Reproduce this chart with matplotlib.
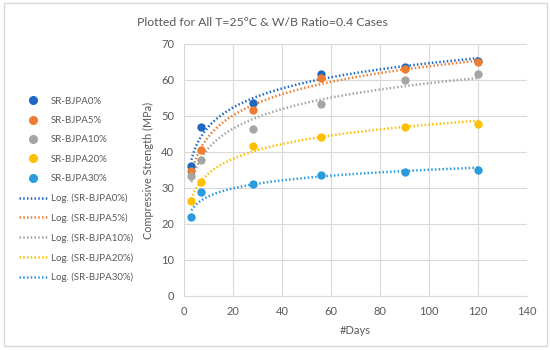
import numpy as np
import matplotlib
matplotlib.use("Agg")
import matplotlib.pyplot as plt
from matplotlib.patches import Rectangle
from matplotlib.lines import Line2D

plt.rcParams['font.family'] = ['Lato', 'DejaVu Sans']

days = [3, 7, 28, 56, 90, 120]
series_names = ["SR-BJPA0%", "SR-BJPA5%", "SR-BJPA10%", "SR-BJPA20%", "SR-BJPA30%"]
bjpa0 = [36.0, 47.0, 53.5, 61.8, 63.7, 65.2]
bjpa5 = [34.8, 40.5, 51.7, 60.5, 63.0, 65.0]
bjpa10 = [33.2, 37.7, 46.5, 53.4, 60.0, 61.6]
bjpa20 = [26.5, 31.7, 41.7, 44.1, 47.0, 47.8]
bjpa30 = [21.9, 28.9, 31.1, 33.5, 34.4, 35.1]
all_series = [bjpa0, bjpa5, bjpa10, bjpa20, bjpa30]
colors = ["#1F68C0", "#ED7D31", "#A5A5A5", "#FFC000", "#2A9BDC"]

title = "Plotted for All T=25\u00b0C & W/B Ratio=0.4 Cases"
xlabel = "#Days"
ylabel = "Compressive Strength (MPa)"
txtc = "#595959"

fig = plt.figure(figsize=(5.5, 3.5), dpi=100)
fig.patches.append(Rectangle((0.008, 0.012), 0.986, 0.98, transform=fig.transFigure,
                             fill=False, edgecolor="#D9D9D9", lw=1))
ax = fig.add_axes([184/550, 1-296/350, (527-184)/550, (296-44)/350])

x = np.array(days, dtype=float)
xs = np.linspace(min(days), max(days), 300)
for vals, c in zip(all_series, colors):
    ax.scatter(days, vals, s=36, color=c, zorder=3, linewidths=0)
for vals, c in zip(all_series, colors):
    b, a = np.polyfit(np.log(x), np.array(vals), 1)
    ax.plot(xs, a + b*np.log(xs), color=c, lw=1.8, ls=(0, (0.6, 0.9)), zorder=2)

ax.set_xlim(0, 140)
ax.set_ylim(0, 70)
ax.set_xticks(range(0, 141, 20))
ax.set_yticks(range(0, 71, 10))
ax.grid(True, color="#D9D9D9", lw=0.8)
ax.set_axisbelow(True)
for s in ["top", "right", "left"]:
    ax.spines[s].set_visible(False)
ax.spines["bottom"].set_color("#D9D9D9")
ax.tick_params(length=0, labelsize=8, colors=txtc, pad=7)
ax.set_xlabel(xlabel, fontsize=8, color=txtc, labelpad=6)
ax.set_ylabel(ylabel, fontsize=7.8, color=txtc, labelpad=5)
fig.text(262/550, 1-22/350, title, ha="center", va="center", fontsize=8.8, color=txtc)

handles = []
for n, c in zip(series_names, colors):
    handles.append(Line2D([], [], ls="none", marker="o", ms=5.5, color=c, mec=c))
for n, c in zip(series_names, colors):
    handles.append(Line2D([], [], ls=(0, (0.6, 0.9)), lw=1.8, color=c))
labels = series_names + ["Log. (" + n + ")" for n in series_names]
leg = fig.legend(handles, labels, loc="upper left", bbox_to_anchor=(0.027, 1-93/350),
                 frameon=False, fontsize=7, labelcolor=txtc, handlelength=3.0,
                 labelspacing=1.06, handletextpad=0.3, borderaxespad=0)

fig.savefig("out.png", dpi=100)
